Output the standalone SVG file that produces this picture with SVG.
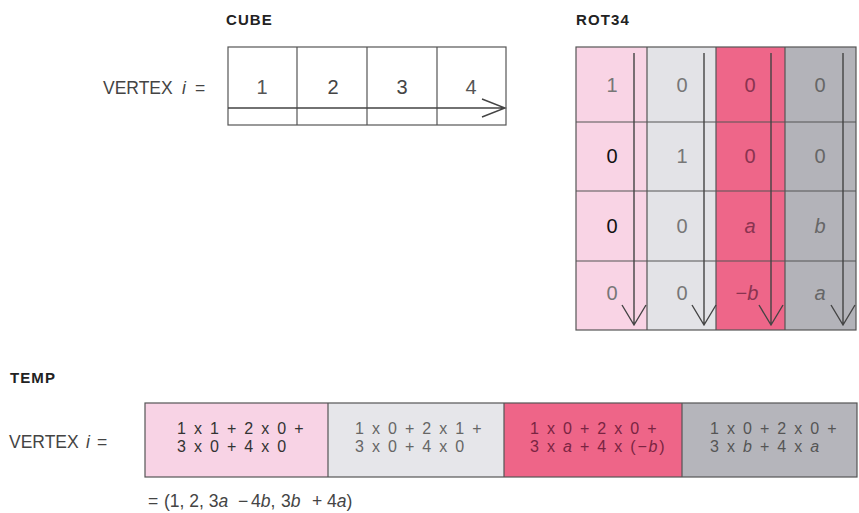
<svg xmlns="http://www.w3.org/2000/svg" width="859" height="513" viewBox="0 0 859 513">
<style>
text{font-family:"Liberation Sans",Arial,sans-serif}
.title{font-weight:bold;font-size:15px;letter-spacing:1.1px;fill:#222}
.lbl{font-size:17.5px;fill:#444}
.num{font-size:20px;text-anchor:middle}
.grid{fill:none;stroke:#555;stroke-width:1.2}
.arr{fill:none;stroke:#444;stroke-width:1.4}
.t{font-size:16px;letter-spacing:1.8px}
</style>
<rect width="859" height="513" fill="#fff"/>
<g id="cube">
<text class="title" x="226" y="25">CUBE</text>
<text class="lbl" y="94"><tspan x="103">VERTEX</tspan><tspan x="182" font-style="italic">i</tspan><tspan x="195">=</tspan></text>
<rect class="grid" x="228" y="47" width="278" height="78"/>
<path class="grid" d="M297 47V125M367 47V125M437 47V125"/>
<text class="num" fill="#555" x="262" y="94">1</text>
<text class="num" fill="#444" x="333" y="94">2</text>
<text class="num" fill="#444" x="402" y="94">3</text>
<text class="num" fill="#555" x="471" y="94">4</text>
</g>
<g id="rot34">
<text class="title" x="576" y="25">ROT34</text>
<rect x="576" y="47" width="71" height="283" fill="#f9d4e5"/>
<rect x="647" y="47" width="69" height="283" fill="#e3e3e7"/>
<rect x="716" y="47" width="69" height="283" fill="#ee6689"/>
<rect x="785" y="47" width="71" height="283" fill="#b3b3b9"/>
<rect class="grid" x="576" y="47" width="280" height="283"/>
<path class="grid" d="M647 47V330M716 47V330M785 47V330M576 122H856M576 191H856M576 261H856"/>
<g class="num">
<text fill="#777" x="612" y="92">1</text>
<text fill="#777" x="682" y="92">0</text>
<text fill="#8a3350" x="750" y="92">0</text>
<text fill="#666" x="820" y="92">0</text>
<text fill="#111" x="612" y="163">0</text>
<text fill="#777" x="682" y="163">1</text>
<text fill="#8a3350" x="750" y="163">0</text>
<text fill="#666" x="820" y="163">0</text>
<text fill="#111" x="612" y="233">0</text>
<text fill="#777" x="682" y="233">0</text>
<text fill="#8a3350" x="750" y="233" font-style="italic">a</text>
<text fill="#666" x="820" y="233" font-style="italic">b</text>
<text fill="#777" x="612" y="300">0</text>
<text fill="#777" x="682" y="300">0</text>
<text fill="#8a3350" x="747" y="300">−<tspan font-style="italic">b</tspan></text>
<text fill="#666" x="820" y="300" font-style="italic">a</text>
</g>
</g>
<g id="connectors">
<path class="arr" d="M228 108H505M482 99L505 108L482 117"/>
<path class="arr" d="M634 53V325M622 305L634 325L646 305"/>
<path class="arr" d="M704 53V325M692 305L704 325L716 305"/>
<path class="arr" d="M771 53V325M759 305L771 325L783 305"/>
<path class="arr" d="M843 53V325M831 305L843 325L855 305"/>
</g>
<g id="temp">
<text class="title" x="10" y="383">TEMP</text>
<text class="lbl" y="448"><tspan x="9">VERTEX</tspan><tspan x="86" font-style="italic">i</tspan><tspan x="97">=</tspan></text>
<rect x="145" y="403" width="183" height="74" fill="#f8d3e5"/>
<rect x="328" y="403" width="176" height="74" fill="#e6e6ea"/>
<rect x="504" y="403" width="178" height="74" fill="#ee6588"/>
<rect x="682" y="403" width="175" height="74" fill="#b5b5bb"/>
<rect class="grid" x="145" y="403" width="712" height="74"/>
<path class="grid" d="M328 403V477M504 403V477M682 403V477"/>
<text class="t" fill="#333"><tspan x="177" y="434">1 x 1 + 2 x 0 +</tspan><tspan x="177" y="452">3 x 0 + 4 x 0</tspan></text>
<text class="t" fill="#666"><tspan x="355" y="434">1 x 0 + 2 x 1 +</tspan><tspan x="355" y="452">3 x 0 + 4 x 0</tspan></text>
<text class="t" fill="#7a2442"><tspan x="530" y="434">1 x 0 + 2 x 0 +</tspan><tspan x="530" y="452">3 x <tspan font-style="italic">a</tspan> + 4 x (−<tspan font-style="italic">b</tspan>)</tspan></text>
<text class="t" fill="#555"><tspan x="710" y="434">1 x 0 + 2 x 0 +</tspan><tspan x="710" y="452">3 x <tspan font-style="italic">b</tspan> + 4 x <tspan font-style="italic">a</tspan></tspan></text>
<text class="lbl" y="507" font-size="16"><tspan x="148">=</tspan><tspan x="164">(1, 2, 3</tspan><tspan font-style="italic">a</tspan><tspan x="238">−</tspan><tspan x="251">4</tspan><tspan font-style="italic">b</tspan>,<tspan x="281">3</tspan><tspan font-style="italic">b</tspan><tspan x="312">+</tspan><tspan x="327">4</tspan><tspan font-style="italic">a</tspan>)</text>
</g>
</svg>
